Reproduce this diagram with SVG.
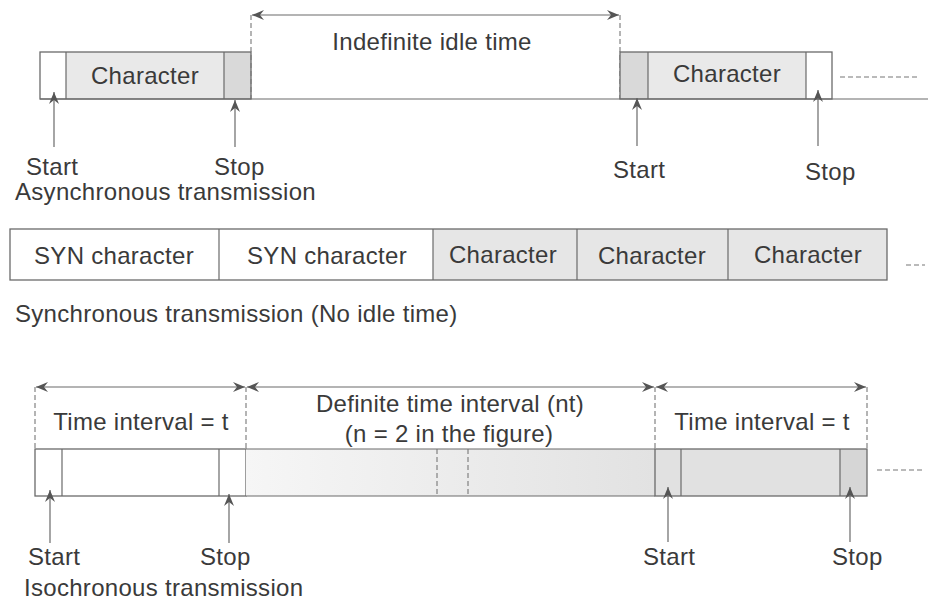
<svg xmlns="http://www.w3.org/2000/svg" width="932" height="600" viewBox="0 0 932 600">
  <style>
    text { font-family: "Liberation Sans", Arial, sans-serif; font-size: 24px; fill: #3a3a3a; letter-spacing: 0.3px; }
    .mid { text-anchor: middle; }
    .box { fill: none; stroke: #6a6a6a; stroke-width: 1.3; }
    .div { stroke: #6a6a6a; stroke-width: 1.2; }
    .dash { stroke: #777; stroke-width: 1.1; stroke-dasharray: 5 3; fill: none; }
    .lite { fill: #e9e9e9; }
    .dark { fill: #d9d9d9; }
    .syn { fill: #e6e6e6; }
    .ptr { stroke: #6a6a6a; stroke-width: 1.2; fill: none; marker-end: url(#barb); }
    .dim { stroke: #6a6a6a; stroke-width: 1.1; fill: none; marker-start: url(#barb); marker-end: url(#barb); }
  </style>
  <defs>
    <marker id="barb" viewBox="0 0 12 10" refX="12" refY="5" markerWidth="12" markerHeight="10" markerUnits="userSpaceOnUse" orient="auto-start-reverse">
      <path d="M0,0 L12,5 L0,10 L4,5 z" fill="#555"/>
    </marker>
    <linearGradient id="fade" x1="0" y1="0" x2="1" y2="0">
      <stop offset="0" stop-color="#f6f6f6"/>
      <stop offset="1" stop-color="#e2e2e2"/>
    </linearGradient>
  </defs>
  <rect width="932" height="600" fill="#ffffff"/>

  <!-- Asynchronous transmission -->
  <g id="async-frame-1">
    <rect x="66" y="52" width="158" height="47" class="lite"/>
    <rect x="224" y="52" width="27" height="47" class="dark"/>
    <rect x="40" y="52" width="211" height="47" class="box"/>
    <line x1="66" y1="52" x2="66" y2="99" class="div"/>
    <line x1="224" y1="52" x2="224" y2="99" class="div"/>
    <text x="145" y="84" class="mid">Character</text>
  </g>
  <g id="async-idle">
    <line x1="251" y1="15" x2="251" y2="99" class="dash"/>
    <line x1="620" y1="15" x2="620" y2="99" class="dash"/>
    <text x="432" y="50" class="mid">Indefinite idle time</text>
  </g>
  <g id="async-frame-2">
    <rect x="620" y="52" width="28" height="47" class="dark"/>
    <rect x="648" y="52" width="158" height="47" class="lite"/>
    <rect x="620" y="52" width="212" height="47" class="box"/>
    <line x1="648" y1="52" x2="648" y2="99" class="div"/>
    <line x1="806" y1="52" x2="806" y2="99" class="div"/>
    <text x="727" y="82" class="mid">Character</text>
    <line x1="840" y1="77" x2="918" y2="77" class="dash"/>
  </g>
  <g id="async-line">
    <line x1="40" y1="99" x2="928" y2="99" class="div"/>
  </g>
  <g id="async-labels">
    <text x="26" y="175">Start</text>
    <text x="214" y="175">Stop</text>
    <text x="613" y="178">Start</text>
    <text x="805" y="180">Stop</text>
    <text x="15" y="200">Asynchronous transmission</text>
  </g>

  <!-- Synchronous transmission -->
  <g id="sync-stream">
    <rect x="433" y="229" width="454" height="51" class="syn"/>
    <rect x="10" y="229" width="877" height="51" class="box"/>
    <line x1="219" y1="229" x2="219" y2="280" class="div"/>
    <line x1="433" y1="229" x2="433" y2="280" class="div"/>
    <line x1="577" y1="229" x2="577" y2="280" class="div"/>
    <line x1="728" y1="229" x2="728" y2="280" class="div"/>
    <text x="114" y="264" class="mid">SYN character</text>
    <text x="327" y="264" class="mid">SYN character</text>
    <text x="503" y="263" class="mid">Character</text>
    <text x="652" y="264" class="mid">Character</text>
    <text x="808" y="263" class="mid">Character</text>
    <line x1="906" y1="265" x2="925" y2="265" class="dash"/>
  </g>
  <g id="sync-caption">
    <text x="15" y="322">Synchronous transmission (No idle time)</text>
  </g>

  <!-- Isochronous transmission -->
  <g id="iso-frame-1">
    <rect x="35" y="449" width="211" height="47" class="box"/>
    <line x1="62" y1="449" x2="62" y2="496" class="div"/>
    <line x1="219" y1="449" x2="219" y2="496" class="div"/>
    <line x1="35" y1="387" x2="35" y2="449" class="dash"/>
    <text x="141" y="430" class="mid">Time interval = t</text>
  </g>
  <g id="iso-gap">
    <rect x="246" y="449" width="409" height="47" fill="url(#fade)"/>
    <line x1="246" y1="449" x2="655" y2="449" class="div"/>
    <line x1="246" y1="496" x2="655" y2="496" class="div"/>
    <line x1="437" y1="449" x2="437" y2="496" class="dash"/>
    <line x1="468" y1="449" x2="468" y2="496" class="dash"/>
    <line x1="246" y1="387" x2="246" y2="449" class="dash"/>
    <line x1="655" y1="387" x2="655" y2="449" class="dash"/>
    <text x="450" y="412" class="mid">Definite time interval (nt)</text>
    <text x="449" y="442" class="mid">(n = 2 in the figure)</text>
  </g>
  <g id="iso-frame-2">
    <rect x="655" y="449" width="185" height="47" fill="#e1e1e1"/>
    <rect x="840" y="449" width="27" height="47" fill="#d6d6d6"/>
    <rect x="655" y="449" width="212" height="47" class="box"/>
    <line x1="681" y1="449" x2="681" y2="496" class="div"/>
    <line x1="840" y1="449" x2="840" y2="496" class="div"/>
    <line x1="867" y1="387" x2="867" y2="449" class="dash"/>
    <text x="762" y="430" class="mid">Time interval = t</text>
    <line x1="877" y1="470" x2="923" y2="470" class="dash"/>
  </g>
  <g id="iso-labels">
    <text x="28" y="565">Start</text>
    <text x="200" y="565">Stop</text>
    <text x="643" y="565">Start</text>
    <text x="832" y="565">Stop</text>
    <text x="24" y="596">Isochronous transmission</text>
  </g>

  <!-- Connectors: bit pointers and interval dimension lines -->
  <g id="connectors">
    <line x1="54" y1="147" x2="54" y2="92" class="ptr"/>
    <line x1="235" y1="147" x2="235" y2="100" class="ptr"/>
    <line x1="637" y1="146" x2="637" y2="98" class="ptr"/>
    <line x1="818" y1="146" x2="818" y2="90" class="ptr"/>
    <line x1="252" y1="15" x2="619" y2="15" class="dim"/>

    <line x1="50" y1="543" x2="50" y2="490" class="ptr"/>
    <line x1="229" y1="543" x2="229" y2="494" class="ptr"/>
    <line x1="668" y1="542" x2="668" y2="487" class="ptr"/>
    <line x1="850" y1="542" x2="850" y2="487" class="ptr"/>
    <line x1="36" y1="387" x2="245" y2="387" class="dim"/>
    <line x1="247" y1="387" x2="654" y2="387" class="dim"/>
    <line x1="656" y1="387" x2="866" y2="387" class="dim"/>
  </g>
</svg>
